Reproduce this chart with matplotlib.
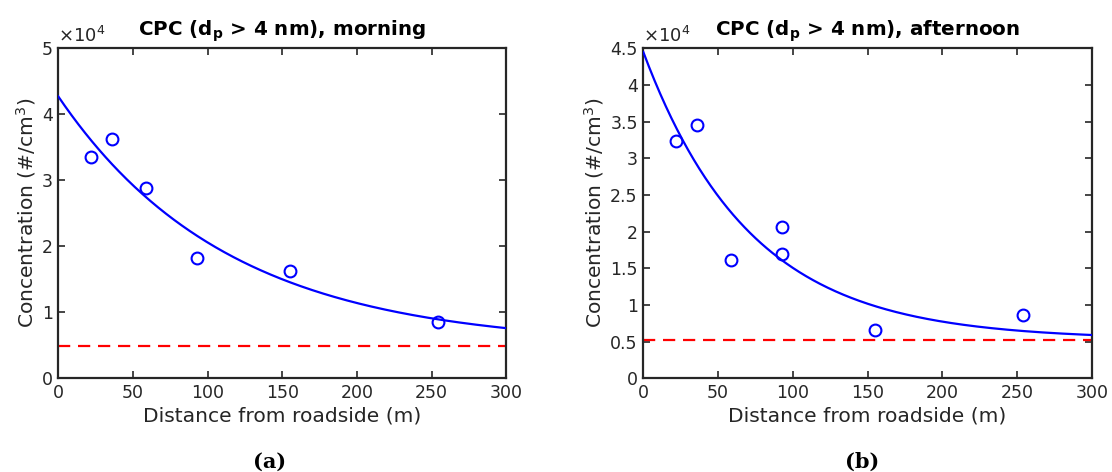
import numpy as np
import matplotlib
matplotlib.use("Agg")
import matplotlib.pyplot as plt

# Measured number concentrations vs. distance from the road
dist_morning = [22, 36, 59, 93, 155, 254]
conc_morning = [3.35e4, 3.62e4, 2.88e4, 1.83e4, 1.62e4, 0.85e4]
dist_afternoon = [22, 36, 59, 93, 93, 155, 254]
conc_afternoon = [3.24e4, 3.45e4, 1.61e4, 2.06e4, 1.69e4, 0.66e4, 0.87e4]

# Exponential decay fits: C(x) = background + amplitude * exp(-rate * x)
fit_morning = dict(background=4.9e3, amplitude=3.78e4, rate=0.0088)
fit_afternoon = dict(background=5.3e3, amplitude=3.92e4, rate=0.0139)
background_morning = 4.9e3
background_afternoon = 5.2e3

titles = ["CPC (d$_\\mathbf{p}$ > 4 nm), morning",
          "CPC (d$_\\mathbf{p}$ > 4 nm), afternoon"]
captions = ["(a)", "(b)"]
caption_x = [270, 862]
ylims = [5e4, 4.5e4]
ytick_steps = [1e4, 0.5e4]
xticks = [0, 50, 100, 150, 200, 250, 300]

W, H = 1112, 472
fig = plt.figure(figsize=(W / 100, H / 100), dpi=100)
axes_px = [(58.3, 48.3, 506.3, 378.3), (643.3, 48.3, 1091.7, 378.3)]
dark = "#262626"

panels = [
    (dist_morning, conc_morning, fit_morning, background_morning),
    (dist_afternoon, conc_afternoon, fit_afternoon, background_afternoon),
]

for i, (xs, ys, fit, bg) in enumerate(panels):
    l, t, r, b = axes_px[i]
    ax = fig.add_axes([l / W, 1 - b / H, (r - l) / W, (b - t) / H])
    xf = np.linspace(0, 300, 400)
    yf = fit["background"] + fit["amplitude"] * np.exp(-fit["rate"] * xf)
    ax.plot(xf, yf, color="#0000ff", lw=1.6, zorder=3)
    ax.plot(xs, ys, "o", mfc="none", mec="#0000ff", mew=1.5, ms=8.5, zorder=4)
    ax.plot([0, 300], [bg, bg], "--", color="#ff0000", lw=1.6, dashes=(5.5, 3.5), zorder=2)

    ax.set_xlim(0, 300)
    ax.set_ylim(0, ylims[i])
    ax.set_xticks(xticks)
    yt = np.arange(0, ylims[i] + 1, ytick_steps[i])
    ax.set_yticks(yt)
    ax.set_yticklabels([f"{v / 1e4:g}" for v in yt])
    ax.tick_params(direction="in", top=True, right=True, length=5, width=1.2,
                   colors=dark, labelsize=12.5, pad=4)
    for sp in ax.spines.values():
        sp.set_linewidth(1.6)
        sp.set_color(dark)
    ax.set_xlabel("Distance from roadside (m)", fontsize=14.6, color=dark, labelpad=3)
    ax.set_ylabel("Concentration (#/cm$^3$)", fontsize=14.6, color=dark, labelpad=3)
    ax.set_title(titles[i], fontsize=14.3, fontweight="bold", pad=9)
    ax.text(0.0, 1.008, "$\\times$10$^4$", transform=ax.transAxes, fontsize=13,
            color=dark, ha="left", va="bottom")
    fig.text(caption_x[i] / W, 1 - 462 / H, captions[i], ha="center", va="center",
             fontsize=15, fontweight="bold", family="DejaVu Serif")

fig.savefig("out.png", dpi=100)
